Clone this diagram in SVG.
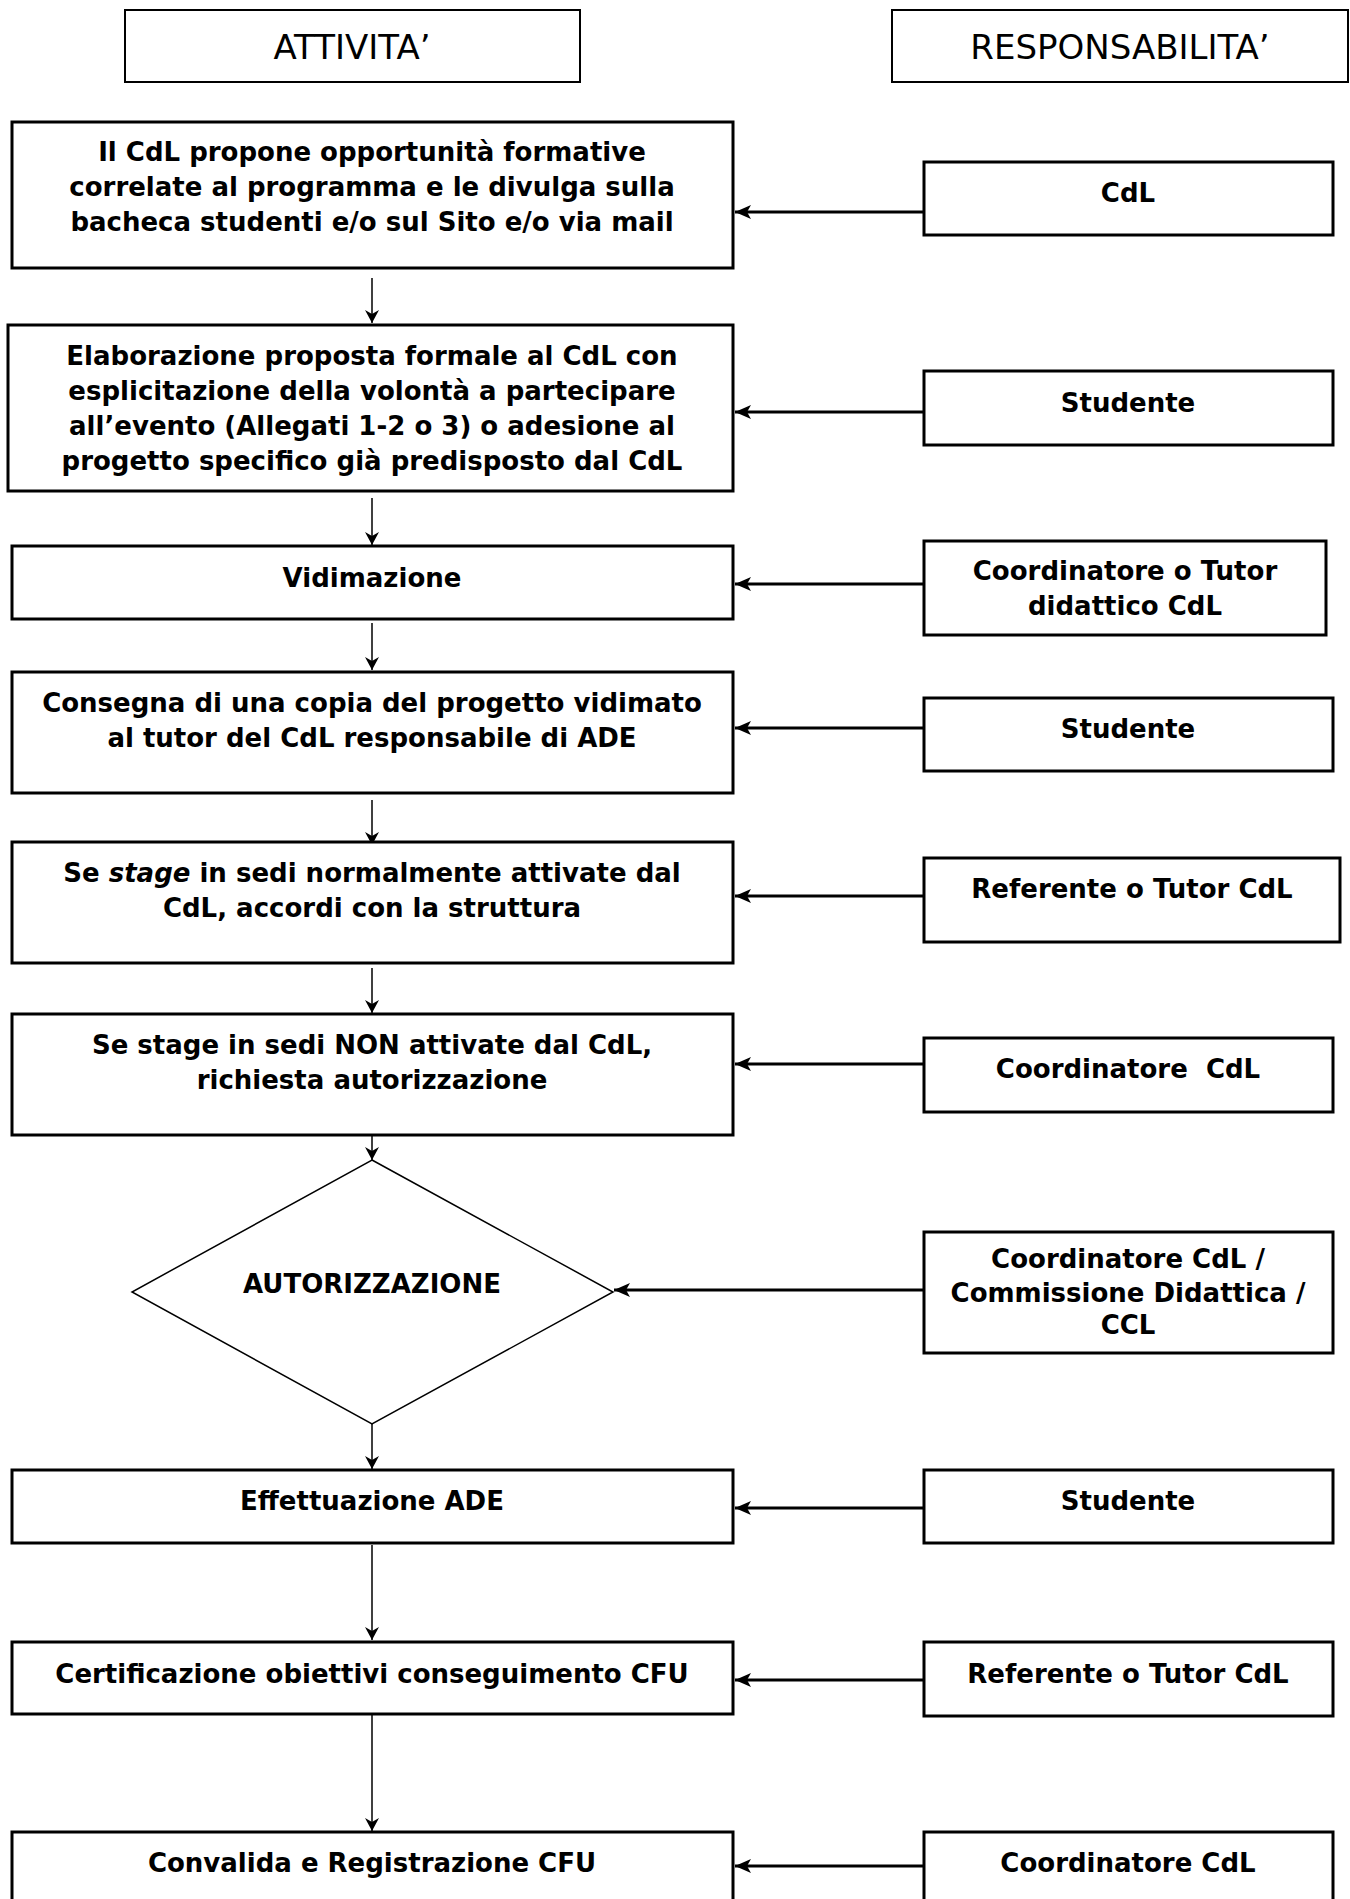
<svg xmlns="http://www.w3.org/2000/svg" width="1350" height="1899" viewBox="0 0 1350 1899">
<defs>
<style>
.hdr{fill:#fff;stroke:#000;stroke-width:2}
.box{fill:#fff;stroke:#000;stroke-width:3}
.dia{fill:#fff;stroke:#000;stroke-width:1.5}
.ht{font-family:"DejaVu Sans",Verdana,sans-serif;font-size:34px;text-anchor:middle;fill:#000}
.t{font-family:"DejaVu Sans",Verdana,sans-serif;font-size:26px;font-weight:bold;text-anchor:middle;fill:#000}
.v{stroke:#000;stroke-width:1.5;fill:none}
.h{stroke:#000;stroke-width:3;fill:none}
</style>
<marker id="av" markerUnits="userSpaceOnUse" markerWidth="14" markerHeight="16" refX="13" refY="7" orient="auto" viewBox="0 0 14 14">
<path d="M0,0 L13,7 L0,14 L4,7 Z" fill="#000"/>
</marker>
<marker id="ah" markerUnits="userSpaceOnUse" markerWidth="18" markerHeight="16" refX="16" refY="7" orient="auto" viewBox="0 0 18 14">
<path d="M0,0 L16,7 L0,14 L4,7 Z" fill="#000"/>
</marker>
</defs>
<rect width="1350" height="1899" fill="#fff"/>

<g id="header-attivita">
<rect class="hdr" x="125" y="10" width="455" height="72"/>
<text class="ht" x="352" y="59">ATTIVITA’</text>
</g>
<g id="header-responsabilita">
<rect class="hdr" x="892" y="10" width="456" height="72"/>
<text class="ht" x="1120" y="59">RESPONSABILITA’</text>
</g>

<g id="connectors">
<line class="v" x1="372" y1="278" x2="372" y2="323" marker-end="url(#av)"/>
<line class="v" x1="372" y1="498" x2="372" y2="545" marker-end="url(#av)"/>
<line class="v" x1="372" y1="623" x2="372" y2="670" marker-end="url(#av)"/>
<line class="v" x1="372" y1="800" x2="372" y2="845" marker-end="url(#av)"/>
<line class="v" x1="372" y1="968" x2="372" y2="1013" marker-end="url(#av)"/>
<line class="v" x1="372" y1="1136" x2="372" y2="1160" marker-end="url(#av)"/>
<line class="v" x1="372" y1="1424" x2="372" y2="1469" marker-end="url(#av)"/>
<line class="v" x1="372" y1="1545" x2="372" y2="1640" marker-end="url(#av)"/>
<line class="v" x1="372" y1="1713" x2="372" y2="1831" marker-end="url(#av)"/>
<line class="h" x1="924" y1="212" x2="735" y2="212" marker-end="url(#ah)"/>
<line class="h" x1="924" y1="412" x2="735" y2="412" marker-end="url(#ah)"/>
<line class="h" x1="924" y1="584" x2="735" y2="584" marker-end="url(#ah)"/>
<line class="h" x1="924" y1="728" x2="735" y2="728" marker-end="url(#ah)"/>
<line class="h" x1="924" y1="896" x2="735" y2="896" marker-end="url(#ah)"/>
<line class="h" x1="924" y1="1064" x2="735" y2="1064" marker-end="url(#ah)"/>
<line class="h" x1="924" y1="1290" x2="614" y2="1290" marker-end="url(#ah)"/>
<line class="h" x1="924" y1="1508" x2="735" y2="1508" marker-end="url(#ah)"/>
<line class="h" x1="924" y1="1680" x2="735" y2="1680" marker-end="url(#ah)"/>
<line class="h" x1="924" y1="1866" x2="735" y2="1866" marker-end="url(#ah)"/>
</g>

<g id="a1">
<rect class="box" x="12" y="122" width="721" height="146"/>
<text class="t" x="372" y="161">Il CdL propone opportunità formative</text>
<text class="t" x="372" y="196">correlate al programma e le divulga sulla</text>
<text class="t" x="372" y="231">bacheca studenti e/o sul Sito e/o via mail</text>
</g>
<g id="r1">
<rect class="box" x="924" y="162" width="409" height="73"/>
<text class="t" x="1128" y="202">CdL</text>
</g>

<g id="a2">
<rect class="box" x="8" y="325" width="725" height="166"/>
<text class="t" x="372" y="365">Elaborazione proposta formale al CdL con</text>
<text class="t" x="372" y="400">esplicitazione della volontà a partecipare</text>
<text class="t" x="372" y="435">all’evento (Allegati 1-2 o 3) o adesione al</text>
<text class="t" x="372" y="470">progetto specifico già predisposto dal CdL</text>
</g>
<g id="r2">
<rect class="box" x="924" y="371" width="409" height="74"/>
<text class="t" x="1128" y="412">Studente</text>
</g>

<g id="a3">
<rect class="box" x="12" y="546" width="721" height="73"/>
<text class="t" x="372" y="587">Vidimazione</text>
</g>
<g id="r3">
<rect class="box" x="924" y="541" width="402" height="94"/>
<text class="t" x="1125" y="580">Coordinatore o Tutor</text>
<text class="t" x="1125" y="615">didattico CdL</text>
</g>

<g id="a4">
<rect class="box" x="12" y="672" width="721" height="121"/>
<text class="t" x="372" y="712">Consegna di una copia del progetto vidimato</text>
<text class="t" x="372" y="747">al tutor del CdL responsabile di ADE</text>
</g>
<g id="r4">
<rect class="box" x="924" y="698" width="409" height="73"/>
<text class="t" x="1128" y="738">Studente</text>
</g>

<g id="a5">
<rect class="box" x="12" y="842" width="721" height="121"/>
<text class="t" x="372" y="882">Se <tspan font-style="italic">stage</tspan> in sedi normalmente attivate dal</text>
<text class="t" x="372" y="917">CdL, accordi con la struttura</text>
</g>
<g id="r5">
<rect class="box" x="924" y="858" width="416" height="84"/>
<text class="t" x="1132" y="898">Referente o Tutor CdL</text>
</g>

<g id="a6">
<rect class="box" x="12" y="1014" width="721" height="121"/>
<text class="t" x="372" y="1054">Se stage in sedi NON attivate dal CdL,</text>
<text class="t" x="372" y="1089">richiesta autorizzazione</text>
</g>
<g id="r6">
<rect class="box" x="924" y="1038" width="409" height="74"/>
<text class="t" x="1128" y="1078" xml:space="preserve">Coordinatore  CdL</text>
</g>

<g id="d1">
<polygon class="dia" points="372,1160 613,1292 372,1424 132,1292"/>
<text class="t" x="372" y="1293">AUTORIZZAZIONE</text>
</g>
<g id="r7">
<rect class="box" x="924" y="1232" width="409" height="121"/>
<text class="t" x="1128" y="1268">Coordinatore CdL /</text>
<text class="t" x="1128" y="1302">Commissione Didattica /</text>
<text class="t" x="1128" y="1334">CCL</text>
</g>

<g id="a8">
<rect class="box" x="12" y="1470" width="721" height="73"/>
<text class="t" x="372" y="1510">Effettuazione ADE</text>
</g>
<g id="r8">
<rect class="box" x="924" y="1470" width="409" height="73"/>
<text class="t" x="1128" y="1510">Studente</text>
</g>

<g id="a9">
<rect class="box" x="12" y="1642" width="721" height="72"/>
<text class="t" x="372" y="1683">Certificazione obiettivi conseguimento CFU</text>
</g>
<g id="r9">
<rect class="box" x="924" y="1642" width="409" height="74"/>
<text class="t" x="1128" y="1683">Referente o Tutor CdL</text>
</g>

<g id="a10">
<rect class="box" x="12" y="1832" width="721" height="80"/>
<text class="t" x="372" y="1872">Convalida e Registrazione CFU</text>
</g>
<g id="r10">
<rect class="box" x="924" y="1832" width="409" height="80"/>
<text class="t" x="1128" y="1872">Coordinatore CdL</text>
</g>
</svg>
